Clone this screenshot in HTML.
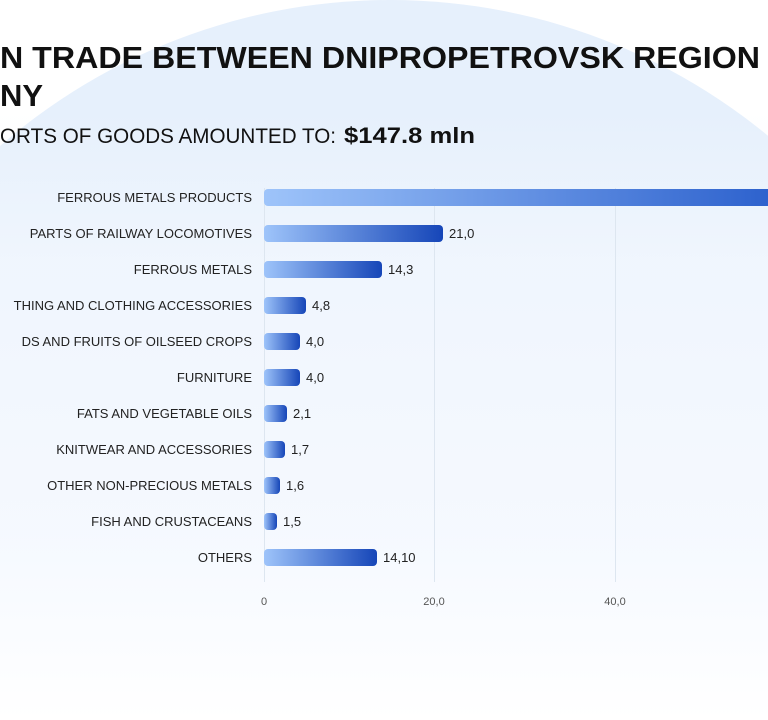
<!DOCTYPE html>
<html><head><meta charset="utf-8"><style>
html,body{margin:0;padding:0;background:#fff;width:768px;height:720px;overflow:hidden;}
svg{display:block;font-family:"Liberation Sans",sans-serif;}
</style></head><body>
<svg width="768" height="720" viewBox="0 0 768 720" xmlns="http://www.w3.org/2000/svg">
<defs>
<linearGradient id="fade" x1="0" y1="0" x2="0" y2="1">
<stop offset="0" stop-color="#f4f8fe" stop-opacity="0"/>
<stop offset="0.25" stop-color="#f4f8fe" stop-opacity="0.7"/>
<stop offset="0.7" stop-color="#f7faff" stop-opacity="0.9"/>
<stop offset="1" stop-color="#ffffff" stop-opacity="1"/>
</linearGradient>
<linearGradient id="bar" x1="0" y1="0" x2="1" y2="0">
<stop offset="0" stop-color="#9ec4fa"/><stop offset="1" stop-color="#1646b8"/>
</linearGradient>
<linearGradient id="bar1" x1="0" y1="0" x2="1" y2="0">
<stop offset="0" stop-color="#9ec4fa"/><stop offset="1" stop-color="#2a5fcc"/>
</linearGradient>
</defs>
<rect width="768" height="720" fill="#fff"/>
<circle cx="390" cy="594" r="594" fill="#e6f0fc"/>
<rect x="0" y="110" width="768" height="610" fill="url(#fade)"/>

<text x="0" y="68" font-size="31" font-weight="bold" fill="#111" textLength="760" lengthAdjust="spacingAndGlyphs">N TRADE BETWEEN DNIPROPETROVSK REGION</text>
<text x="0" y="106" font-size="31" font-weight="bold" fill="#111">NY</text>
<text x="0" y="143" font-size="21" fill="#111" textLength="336" lengthAdjust="spacingAndGlyphs">ORTS OF GOODS AMOUNTED TO:</text>
<text x="344" y="143" font-size="22" font-weight="bold" fill="#111" textLength="131" lengthAdjust="spacingAndGlyphs">$147.8 mln</text>

<g stroke="#dde6f0" stroke-width="1">
<line x1="264.5" y1="188" x2="264.5" y2="582"/>
<line x1="434.5" y1="188" x2="434.5" y2="582"/>
<line x1="615.5" y1="188" x2="615.5" y2="582"/>
</g>

<g font-size="13" fill="#222" text-anchor="end">
<text x="252" y="202">FERROUS METALS PRODUCTS</text>
<text x="252" y="238">PARTS OF RAILWAY LOCOMOTIVES</text>
<text x="252" y="274">FERROUS METALS</text>
<text x="252" y="310">THING AND CLOTHING ACCESSORIES</text>
<text x="252" y="346">DS AND FRUITS OF OILSEED CROPS</text>
<text x="252" y="382">FURNITURE</text>
<text x="252" y="418">FATS AND VEGETABLE OILS</text>
<text x="252" y="454">KNITWEAR AND ACCESSORIES</text>
<text x="252" y="490">OTHER NON-PRECIOUS METALS</text>
<text x="252" y="526">FISH AND CRUSTACEANS</text>
<text x="252" y="562">OTHERS</text>
</g>

<rect x="264" y="189" width="520" height="17" rx="4" fill="url(#bar1)"/>
<rect x="264" y="225" width="179" height="17" rx="4" fill="url(#bar)"/>
<rect x="264" y="261" width="118" height="17" rx="4" fill="url(#bar)"/>
<rect x="264" y="297" width="42" height="17" rx="4" fill="url(#bar)"/>
<rect x="264" y="333" width="36" height="17" rx="4" fill="url(#bar)"/>
<rect x="264" y="369" width="36" height="17" rx="4" fill="url(#bar)"/>
<rect x="264" y="405" width="23" height="17" rx="4" fill="url(#bar)"/>
<rect x="264" y="441" width="21" height="17" rx="4" fill="url(#bar)"/>
<rect x="264" y="477" width="16" height="17" rx="4" fill="url(#bar)"/>
<rect x="264" y="513" width="13" height="17" rx="4" fill="url(#bar)"/>
<rect x="264" y="549" width="113" height="17" rx="4" fill="url(#bar)"/>

<g font-size="13" fill="#222">
<text x="449" y="238">21,0</text>
<text x="388" y="274">14,3</text>
<text x="312" y="310">4,8</text>
<text x="306" y="346">4,0</text>
<text x="306" y="382">4,0</text>
<text x="293" y="418">2,1</text>
<text x="291" y="454">1,7</text>
<text x="286" y="490">1,6</text>
<text x="283" y="526">1,5</text>
<text x="383" y="562">14,10</text>
</g>

<g font-size="11" fill="#555" text-anchor="middle">
<text x="264" y="605">0</text>
<text x="434" y="605">20,0</text>
<text x="615" y="605">40,0</text>
</g>
</svg>
</body></html>
